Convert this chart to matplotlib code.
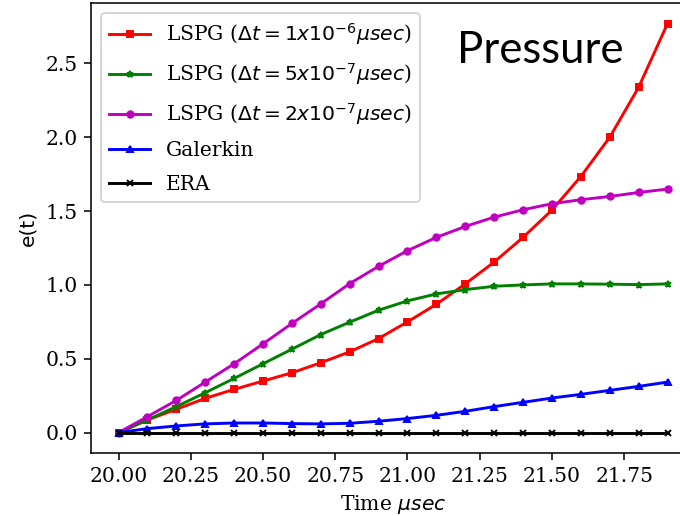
import matplotlib
matplotlib.use('Agg')
import matplotlib.pyplot as plt

# time samples (usec)
time = [20.0, 20.1, 20.2, 20.3, 20.4, 20.5, 20.6, 20.7, 20.8, 20.9,
        21.0, 21.1, 21.2, 21.3, 21.4, 21.5, 21.6, 21.7, 21.8, 21.9]

# error values
lspg_1e6 = [0.0, 0.086, 0.158, 0.232, 0.293, 0.349, 0.405, 0.473, 0.547, 0.637,
            0.750, 0.869, 1.007, 1.155, 1.322, 1.507, 1.734, 2.000, 2.338, 2.770]
lspg_5e7 = [0.0, 0.086, 0.176, 0.270, 0.367, 0.466, 0.565, 0.664, 0.748, 0.829,
            0.892, 0.939, 0.968, 0.991, 1.000, 1.007, 1.007, 1.005, 1.002, 1.007]
lspg_2e7 = [0.0, 0.108, 0.218, 0.342, 0.466, 0.601, 0.739, 0.872, 1.009, 1.126,
            1.232, 1.322, 1.396, 1.459, 1.509, 1.550, 1.577, 1.599, 1.626, 1.649]
galerkin = [0.0, 0.027, 0.045, 0.059, 0.065, 0.065, 0.061, 0.059, 0.063, 0.077,
            0.095, 0.117, 0.144, 0.176, 0.205, 0.234, 0.259, 0.286, 0.313, 0.342]
era = [0.0] * 20

labels = [r'LSPG ($\Delta t = 1x10^{-6}\mu sec$)',
          r'LSPG ($\Delta t = 5x10^{-7}\mu sec$)',
          r'LSPG ($\Delta t = 2x10^{-7}\mu sec$)',
          'Galerkin', 'ERA']

plt.rcParams['font.family'] = 'serif'
plt.rcParams['font.size'] = 10.4

fig = plt.figure(figsize=(680 / 140, 516 / 140), dpi=140)
ax = fig.add_axes([0.134, 0.122, 0.888, 0.872])

ax.plot(time, lspg_1e6, 'r-s', markersize=3.3, label=labels[0])
ax.plot(time, lspg_5e7, 'g-*', markersize=3.3, label=labels[1])
ax.plot(time, lspg_2e7, 'm-o', markersize=3.3, label=labels[2])
ax.plot(time, galerkin, 'b-^', markersize=3.3, label=labels[3])
ax.plot(time, era, 'k-x', markersize=3.3, label=labels[4])

ax.set_xlabel(r'Time $\mu sec$')
ax.set_ylabel('e(t)', fontfamily='DejaVu Sans')
ax.legend(loc='upper left', labelspacing=0.7)

fig.text(457 / 680, 1 - 63 / 516, 'Pressure', fontfamily='Lato',
         fontsize=22.5, va='baseline', ha='left')

fig.savefig('out.png', dpi=140)
